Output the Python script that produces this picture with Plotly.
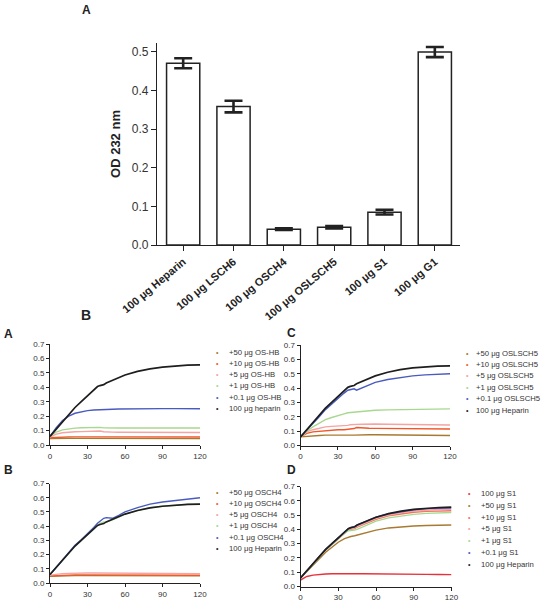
import plotly.graph_objects as go

W, H = 545, 602
FONT = "Liberation Sans, Arial, sans-serif"

# ---------------- Panel A (bar chart) data ----------------
bar_labels = ["100 μg Heparin", "100 μg LSCH6", "100 μg OSCH4", "100 μg OSLSCH5", "100 μg S1", "100 μg G1"]
bar_values = [0.470, 0.358, 0.041, 0.046, 0.085, 0.499]
bar_errors = [0.013, 0.015, 0.002, 0.003, 0.006, 0.013]
bar_yticks = [0.0, 0.1, 0.2, 0.3, 0.4, 0.5]

# ---------------- Panel B (kinetics) data ----------------
time_min = [0, 5, 10, 15, 20, 25, 30, 35, 38, 40, 43, 45, 50, 55, 60, 70, 80, 90, 100, 110, 120]
x_ticks = [0, 30, 60, 90, 120]
y_ticks = [0.0, 0.1, 0.2, 0.3, 0.4, 0.5, 0.6, 0.7]

heparin = [0.06, 0.11, 0.16, 0.21, 0.26, 0.30, 0.34, 0.385, 0.405, 0.412, 0.418, 0.43, 0.45, 0.47, 0.485, 0.51, 0.528, 0.54, 0.548, 0.553, 0.555]

# A: OS-HB
oshb_50 = [0.045, 0.047, 0.047, 0.047, 0.046, 0.046, 0.046, 0.046, 0.046, 0.046, 0.045, 0.045, 0.045, 0.045, 0.045, 0.045, 0.045, 0.045, 0.045, 0.045, 0.044]
oshb_10 = [0.05, 0.053, 0.055, 0.056, 0.056, 0.056, 0.057, 0.057, 0.056, 0.056, 0.055, 0.055, 0.055, 0.055, 0.055, 0.055, 0.055, 0.055, 0.055, 0.055, 0.055]
oshb_5 = [0.055, 0.075, 0.085, 0.09, 0.092, 0.093, 0.094, 0.095, 0.096, 0.097, 0.092, 0.09, 0.089, 0.088, 0.088, 0.088, 0.087, 0.087, 0.087, 0.087, 0.087]
oshb_1 = [0.06, 0.09, 0.105, 0.113, 0.117, 0.12, 0.122, 0.125, 0.124, 0.122, 0.119, 0.118, 0.118, 0.118, 0.118, 0.118, 0.118, 0.118, 0.118, 0.118, 0.118]
oshb_01 = [0.06, 0.12, 0.17, 0.2, 0.22, 0.23, 0.238, 0.243, 0.245, 0.245, 0.246, 0.247, 0.248, 0.249, 0.25, 0.251, 0.252, 0.252, 0.252, 0.251, 0.251]
oshb_names = ["+50 μg OS-HB", "+10 μg OS-HB", "+5 μg OS-HB", "+1 μg OS-HB", "+0.1 μg OS-HB", "100 μg heparin"]

# C: OSLSCH5
oslsch5_50 = [0.06, 0.065, 0.068, 0.07, 0.072, 0.073, 0.075, 0.075, 0.074, 0.072, 0.072, 0.073, 0.074, 0.075, 0.075, 0.074, 0.073, 0.072, 0.071, 0.07, 0.07]
oslsch5_10 = [0.06, 0.085, 0.095, 0.1, 0.105, 0.108, 0.11, 0.11, 0.112, 0.112, 0.118, 0.125, 0.121, 0.12, 0.119, 0.118, 0.117, 0.116, 0.116, 0.115, 0.115]
oslsch5_5 = [0.06, 0.095, 0.11, 0.122, 0.13, 0.133, 0.135, 0.138, 0.14, 0.145, 0.148, 0.147, 0.148, 0.15, 0.15, 0.148, 0.146, 0.145, 0.144, 0.143, 0.143]
oslsch5_1 = [0.06, 0.1, 0.13, 0.155, 0.18, 0.195, 0.21, 0.22, 0.228, 0.23, 0.232, 0.233, 0.238, 0.242, 0.245, 0.248, 0.25, 0.252, 0.253, 0.254, 0.255]
oslsch5_01 = [0.06, 0.105, 0.15, 0.2, 0.25, 0.29, 0.33, 0.365, 0.385, 0.39, 0.395, 0.385, 0.405, 0.42, 0.44, 0.46, 0.475, 0.485, 0.492, 0.497, 0.5]
oslsch5_names = ["+50 μg OSLSCH5", "+10 μg OSLSCH5", "+5 μg OSLSCH5", "+1 μg OSLSCH5", "+0.1 μg OSLSCH5", "100 μg Heparin"]

# B: OSCH4
osch4_50 = [0.048, 0.05, 0.051, 0.052, 0.052, 0.052, 0.052, 0.052, 0.052, 0.052, 0.052, 0.052, 0.052, 0.052, 0.052, 0.051, 0.051, 0.051, 0.05, 0.05, 0.05]
osch4_10 = [0.05, 0.053, 0.055, 0.056, 0.057, 0.057, 0.057, 0.057, 0.057, 0.057, 0.057, 0.057, 0.057, 0.057, 0.057, 0.056, 0.056, 0.055, 0.055, 0.055, 0.054]
osch4_5 = [0.055, 0.062, 0.066, 0.068, 0.07, 0.07, 0.07, 0.07, 0.07, 0.07, 0.07, 0.07, 0.07, 0.07, 0.07, 0.069, 0.068, 0.068, 0.067, 0.067, 0.066]
osch4_1 = [0.06, 0.11, 0.16, 0.21, 0.26, 0.3, 0.34, 0.38, 0.405, 0.42, 0.43, 0.428, 0.445, 0.465, 0.485, 0.51, 0.53, 0.54, 0.548, 0.553, 0.555]
osch4_01 = [0.06, 0.11, 0.165, 0.215, 0.265, 0.305, 0.345, 0.39, 0.42, 0.435, 0.455, 0.46, 0.455, 0.475, 0.5, 0.53, 0.555, 0.57, 0.58, 0.592, 0.6]
osch4_names = ["+50 μg OSCH4", "+10 μg OSCH4", "+5 μg OSCH4", "+1 μg OSCH4", "+0.1 μg OSCH4", "100 μg Heparin"]

# D: S1
s1_100 = [0.045, 0.07, 0.08, 0.085, 0.088, 0.089, 0.09, 0.09, 0.09, 0.09, 0.09, 0.089, 0.089, 0.089, 0.09, 0.089, 0.088, 0.086, 0.085, 0.084, 0.083]
s1_50 = [0.06, 0.105, 0.15, 0.195, 0.24, 0.275, 0.31, 0.335, 0.345, 0.35, 0.355, 0.36, 0.375, 0.385, 0.395, 0.41, 0.418, 0.424, 0.427, 0.429, 0.43]
s1_10 = [0.06, 0.11, 0.16, 0.21, 0.255, 0.295, 0.335, 0.375, 0.395, 0.4, 0.405, 0.415, 0.435, 0.455, 0.47, 0.495, 0.51, 0.52, 0.526, 0.529, 0.53]
s1_5 = [0.06, 0.11, 0.16, 0.21, 0.258, 0.298, 0.338, 0.38, 0.4, 0.405, 0.41, 0.42, 0.44, 0.46, 0.477, 0.5, 0.517, 0.528, 0.535, 0.539, 0.54]
s1_1 = [0.06, 0.11, 0.16, 0.21, 0.255, 0.295, 0.335, 0.375, 0.39, 0.39, 0.395, 0.4, 0.42, 0.44, 0.458, 0.48, 0.495, 0.505, 0.512, 0.516, 0.518]
s1_01 = [0.06, 0.11, 0.16, 0.21, 0.26, 0.3, 0.34, 0.385, 0.405, 0.412, 0.418, 0.43, 0.45, 0.47, 0.485, 0.508, 0.525, 0.537, 0.545, 0.549, 0.55]
s1_names = ["100 μg S1", "+50 μg S1", "+10 μg S1", "+5 μg S1", "+1 μg S1", "+0.1 μg S1", "100 μg Heparin"]

# colours
C_BROWN = "#a87a30"
C_ORANGE = "#f0582a"
C_PINK = "#f5a3a3"
C_GREEN = "#a8d890"
C_BLUE = "#4a5bbf"
C_BLACK = "#1e1e1e"
C_RED = "#e8303a"
C_SALMON = "#f4735a"
series_colors5 = [C_BROWN, C_ORANGE, C_PINK, C_GREEN, C_BLUE, C_BLACK]
series_colors7 = [C_RED, C_BROWN, C_SALMON, C_PINK, C_GREEN, C_BLUE, C_BLACK]


def px_x(p):
    return p / W


def px_y(p):
    return 1 - p / H


fig = go.Figure()

# ---------- bar chart ----------
fig.add_trace(go.Bar(
    x=list(range(len(bar_labels))), y=bar_values, width=0.66,
    marker=dict(color="white", line=dict(color="#222222", width=1.5)),
    error_y=dict(type="data", array=bar_errors, visible=True, color="#222222", thickness=2.6, width=9),
    showlegend=False, xaxis="x", yaxis="y"))

# ---------- kinetic panels ----------
panels = [
    ("x2", "y2", [oshb_50, oshb_10, oshb_5, oshb_1, oshb_01, heparin], oshb_names, series_colors5),
    ("x3", "y3", [oslsch5_50, oslsch5_10, oslsch5_5, oslsch5_1, oslsch5_01, heparin], oslsch5_names, series_colors5),
    ("x4", "y4", [osch4_50, osch4_10, osch4_5, osch4_1, osch4_01, heparin], osch4_names, series_colors5),
    ("x5", "y5", [s1_100, s1_50, s1_10, s1_5, s1_1, s1_01, heparin], s1_names, series_colors7),
]
for xa, ya, series, names, cols in panels:
    for ys, nm, col in zip(series, names, cols):
        fig.add_trace(go.Scatter(
            x=time_min, y=ys, mode="lines", name=nm,
            line=dict(color=col, width=1.7 if col == C_BLACK else 1.4),
            showlegend=False, xaxis=xa, yaxis=ya))

axis_common = dict(showline=True, linecolor="#222222", showgrid=False, zeroline=False,
                   ticks="outside", tickcolor="#222222", automargin=False)

small_x = dict(axis_common, range=[0, 120], tickvals=x_ticks, ticklen=3, linewidth=1, tickwidth=1,
               tickfont=dict(family=FONT, size=8, color="#333333"))
small_y = dict(axis_common, range=[0, 0.7], tickvals=y_ticks, tickformat=".1f", ticklen=3, linewidth=1,
               tickwidth=1, tickfont=dict(family=FONT, size=8, color="#333333"))

fig.update_layout(
    width=W, height=H, margin=dict(l=0, r=0, t=0, b=0),
    paper_bgcolor="white", plot_bgcolor="white",
    font=dict(family=FONT, color="#222222"),
    xaxis=dict(axis_common, domain=[px_x(157), px_x(460)], range=[-0.52, 5.5],
               tickvals=list(range(len(bar_labels))), ticktext=[f"<b>{t}</b>" for t in bar_labels],
               tickangle=-40, ticklen=5, linewidth=1.3, tickwidth=1.3,
               tickfont=dict(family=FONT, size=11, color="#222222")),
    yaxis=dict(axis_common, domain=[px_y(245), px_y(43)], range=[0, 0.5225],
               tickvals=bar_yticks, tickformat=".1f", ticklen=5, linewidth=1.3, tickwidth=1.3,
               tickfont=dict(family=FONT, size=12, color="#333333"),
               title=dict(text="<b>OD 232 nm</b>", standoff=8, font=dict(family=FONT, size=13, color="#222222"))),
    xaxis2=dict(small_x, domain=[px_x(50), px_x(200)], anchor="y2"),
    yaxis2=dict(small_y, domain=[px_y(445), px_y(344)], anchor="x2"),
    xaxis3=dict(small_x, domain=[px_x(300.5), px_x(450)], anchor="y3"),
    yaxis3=dict(small_y, domain=[px_y(445.5), px_y(345)], anchor="x3"),
    xaxis4=dict(small_x, domain=[px_x(50), px_x(200)], anchor="y4"),
    yaxis4=dict(small_y, domain=[px_y(583), px_y(483.5)], anchor="x4"),
    xaxis5=dict(small_x, domain=[px_x(300.5), px_x(451.5)], anchor="y5"),
    yaxis5=dict(small_y, domain=[px_y(586.5), px_y(486.5)], anchor="x5"),
)

annotations = []


def label(text, x, y, size):
    annotations.append(dict(text=f"<b>{text}</b>", x=px_x(x), y=px_y(y), xref="paper", yref="paper",
                            showarrow=False, xanchor="center", yanchor="middle",
                            font=dict(family=FONT, size=size, color="#222222")))


label("A", 86, 10, 12)
label("B", 86, 315, 14)
label("A", 8, 334, 12)
label("C", 291, 333, 12)
label("B", 8, 470, 12)
label("D", 291, 470, 12)


def legend_block(names, cols, mx, tx, y0, dy):
    for i, (nm, col) in enumerate(zip(names, cols)):
        yy = y0 + i * dy
        annotations.append(dict(text="•", x=px_x(mx), y=px_y(yy), xref="paper", yref="paper",
                                showarrow=False, xanchor="center", yanchor="middle",
                                font=dict(family=FONT, size=7, color=col)))
        annotations.append(dict(text=nm, x=px_x(tx), y=px_y(yy), xref="paper", yref="paper",
                                showarrow=False, xanchor="left", yanchor="middle",
                                font=dict(family=FONT, size=7.7, color="#333333")))


legend_block(oshb_names, series_colors5, 217, 227, 352, 11.3)
legend_block(oslsch5_names, series_colors5, 467, 474, 353, 11.4)
legend_block(osch4_names, series_colors5, 217, 227, 492, 11.3)
legend_block(s1_names, series_colors7, 469, 479, 493.5, 11.75)

fig.update_layout(annotations=annotations)

# remove the page's default 8 px body margin so the figure fills the window exactly
fig.write_html("out.html", config=dict(displayModeBar=False),
               post_script="document.body.style.margin='0px';document.body.style.overflow='hidden';")
